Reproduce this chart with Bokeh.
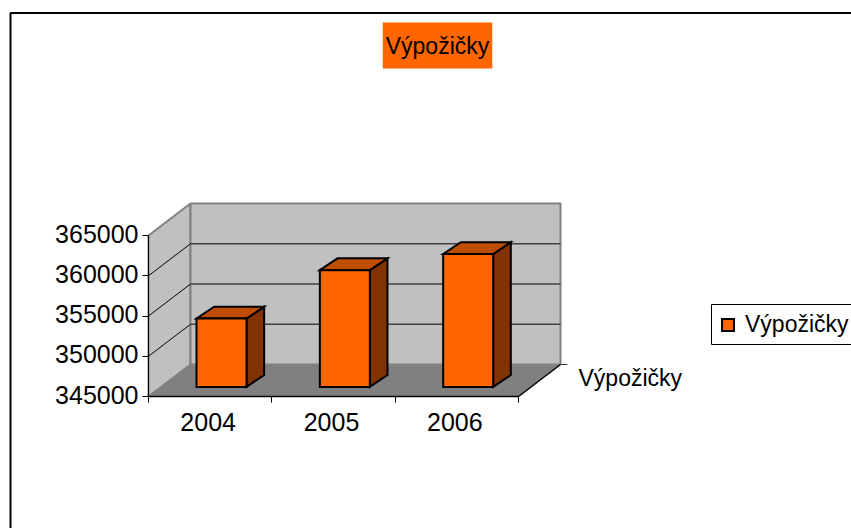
from bokeh.plotting import figure
from bokeh.models import (LinearAxis, FixedTicker, Range1d, Label, BoxAnnotation, Legend, LegendItem)
from bokeh.core.properties import value
from bokeh.embed import file_html
from bokeh.resources import INLINE

categories = ["2004", "2005", "2006"]
series_name = "Výpožičky"
values = [353500, 359500, 361500]
y_ticks = [345000, 350000, 355000, 360000, 365000]

W, H = 851, 528
FONT = "Liberation Sans"
FS = "25px"
FS_T = "23px"
# pixel layout of the plot box
X0, X1, Y0, Y1 = 148, 518, 396, 235
VMIN, VMAX = y_ticks[0], y_ticks[-1]
ux = 3 / (X1 - X0)                # categories per pixel
uy = (VMAX - VMIN) / (Y0 - Y1)    # value per pixel
DX, DY = 42 * ux, 32 * uy         # full depth of the 3D box, in data units


def px(c, d=0.0):
    return c + DX * d


def py(v, d=0.0):
    return v + DY * d


p = figure(width=W, height=H, output_backend="svg", toolbar_location=None,
           x_range=Range1d(-X0 * ux, (W - X0) * ux),
           y_range=Range1d(VMIN - (H - Y0) * uy, VMAX + Y1 * uy),
           min_border=0, outline_line_color=None, background_fill_color="white", border_fill_color="white")
p.xaxis.visible = False
p.yaxis.visible = False
p.xgrid.visible = False
p.ygrid.visible = False

# chart-area border
p.add_layout(BoxAnnotation(left=10, top=H - 12.5, right=W + 20, bottom=-20,
                           left_units="screen", right_units="screen", top_units="screen", bottom_units="screen",
                           fill_color=None, line_color="black", line_alpha=1, line_width=2, level="underlay"))

# walls and floor
p.patch([px(0), px(0, 1), px(0, 1), px(0)],
        [py(VMAX), py(VMAX, 1), py(VMIN, 1), py(VMIN)],
        fill_color="#C0C0C0", line_color="#808080", line_width=2)
p.patch([px(0, 1), px(3, 1), px(3, 1), px(0, 1)],
        [py(VMAX, 1), py(VMAX, 1), py(VMIN, 1), py(VMIN, 1)],
        fill_color="#C0C0C0", line_color="#808080", line_width=2)
p.patch([px(0), px(3), px(3, 1), px(0, 1)],
        [py(VMIN), py(VMIN), py(VMIN, 1), py(VMIN, 1)],
        fill_color="#808080", line_color="#808080", line_width=1)

# gridlines
inner = y_ticks[1:-1]
p.multi_line([[px(0, 1), px(3, 1)] for _ in inner], [[py(t, 1), py(t, 1)] for t in inner],
             line_color="#404040", line_width=1.5)
p.multi_line([[px(0), px(0, 1)] for _ in inner], [[py(t), py(t, 1)] for t in inner],
             line_color="black", line_width=1)

# depth axis
p.line([px(3), px(3, 1)], [py(VMIN), py(VMIN, 1)], line_color="black", line_width=1.5)
p.line([px(3, 1), px(3, 1) + 7 * ux], [py(VMIN, 1), py(VMIN, 1)], line_color="#404040", line_width=1)

# bars
BAR_W = 50 * ux
FX, FY, BX, BY = 0.27, 0.30, 0.69, 0.67
x_l = [i + 0.5 - BAR_W / 2 for i in range(3)]
x_r = [x + BAR_W for x in x_l]
sides = p.patches([[px(r, FX), px(r, BX), px(r, BX), px(r, FX)] for r in x_r],
                  [[py(v, FY), py(v, BY), py(VMIN, BY), py(VMIN, FY)] for v in values],
                  fill_color="#803300", line_color="black", line_width=2, line_join="miter")
tops = p.patches([[px(l, FX), px(l, BX), px(r, BX), px(r, FX)] for l, r in zip(x_l, x_r)],
                 [[py(v, FY), py(v, BY), py(v, BY), py(v, FY)] for v in values],
                 fill_color="#BF4D00", line_color="black", line_width=2, line_join="miter")
fronts = p.patches([[px(l, FX), px(r, FX), px(r, FX), px(l, FX)] for l, r in zip(x_l, x_r)],
                   [[py(VMIN, FY), py(VMIN, FY), py(v, FY), py(v, FY)] for v in values],
                   fill_color="#FF6600", line_color="black", line_width=2, line_join="miter")

# value axis (ticks only; labels placed below so they can sit slightly above the tick)
ya = LinearAxis(fixed_location=0, bounds=(VMIN, VMAX), ticker=FixedTicker(ticks=[], minor_ticks=y_ticks),
                major_tick_in=0, major_tick_out=0, minor_tick_out=6, minor_tick_in=0,
                axis_line_color="black", axis_line_width=1, minor_tick_line_color="black",
                major_tick_line_color=None)
p.add_layout(ya, "left")

# category axis: ticks at boundaries
xa = LinearAxis(fixed_location=VMIN, bounds=(0, 3), ticker=FixedTicker(ticks=[], minor_ticks=[0, 1, 2, 3]),
                major_tick_in=0, major_tick_out=0, minor_tick_out=6, minor_tick_in=0,
                axis_line_color="black", axis_line_width=1.5, major_tick_line_color=None,
                minor_tick_line_color="black")
p.add_layout(xa, "below")

# tick labels
n_y, n_x = len(y_ticks), len(categories)
p.text([0] * n_y, y_ticks, text=[str(t) for t in y_ticks], x_offset=[-10] * n_y, y_offset=[-2] * n_y,
       text_font=value(FONT), text_font_size=value(FS), text_color="black",
       text_align="right", text_baseline="middle")
p.text([i + 0.5 for i in range(n_x)], [VMIN] * n_x, text=categories, x_offset=[-2] * n_x, y_offset=[25] * n_x,
       text_font=value(FONT), text_font_size=value(FS), text_color="black",
       text_align="center", text_baseline="middle")

# depth-axis label
p.text([px(3, 1)], [py(VMIN, 1)], text=[series_name], x_offset=[18], y_offset=[13],
       text_font=value(FONT), text_font_size=value(FS_T), text_color="black",
       text_align="left", text_baseline="middle")

# title
p.add_layout(Label(x=437, y=H - 45, x_units="screen", y_units="screen", text=series_name,
                   text_font=FONT, text_font_size=FS_T, text_color="black",
                   text_align="center", text_baseline="middle",
                   background_fill_color="#FF6600", padding=(3, 10)))

# legend frame and legend
p.add_layout(BoxAnnotation(left=711, top=H - 304, right=W + 20, bottom=H - 344,
                           left_units="screen", right_units="screen", top_units="screen", bottom_units="screen",
                           fill_color="white", fill_alpha=1, line_color="black", line_alpha=1, line_width=1))
leg = Legend(items=[LegendItem(label=series_name, renderers=[fronts], index=0)],
             location=(720, H - 338), orientation="vertical",
             glyph_width=15, glyph_height=15, label_standoff=10, padding=6, margin=0,
             label_text_font=FONT, label_text_font_size=FS_T, label_text_color="black",
             border_line_color=None, background_fill_alpha=0)
p.add_layout(leg, "center")

open("out.html", "w").write(file_html(p, INLINE))
